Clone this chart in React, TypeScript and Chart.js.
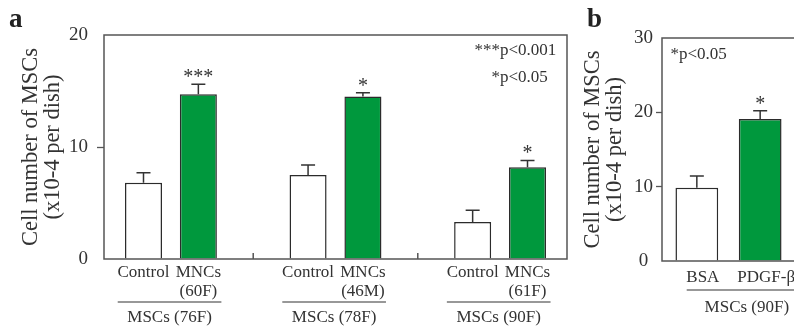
import React, { useEffect, useRef } from 'react';
import { Chart, registerables } from 'chart.js';
Chart.register(...registerables);

const SERIF = '"Liberation Serif", "Times New Roman", serif';
const INK = '#333333';
const AXIS = '#555555';
const GREEN = '#00983d';
const WHITE = '#ffffff';

// ---------- Panel a data ----------
const aPositions = [0, 1, 3, 4, 6, 7];
const aLabels = [['Control'], ['MNCs', '(60F)'], ['Control'], ['MNCs', '(46M)'], ['Control'], ['MNCs', '(61F)']];
const aMeans = [6.8, 14.7, 7.5, 14.5, 3.3, 8.2];
const aErrors = [0.9, 0.9, 0.9, 0.35, 1.05, 0.6];
const aStars = ['', '***', '', '*', '', '*'];
const aTreated = [false, true, false, true, false, true];
const aGroupNames = ['MSCs (76F)', 'MSCs (78F)', 'MSCs (90F)'];
const aGroupSpans = [[0, 1], [3, 4], [6, 7]];
const aDividers = [2, 5];
const aYTicks = [0, 10, 20];
const aNotes = [['***', 'p<0.001'], ['*', 'p<0.05']];

// ---------- Panel b data ----------
const bPositions = [0, 1];
const bLabels = [['BSA'], ['PDGF-β']];
const bMeans = [9.85, 19.1];
const bErrors = [1.6, 1.1];
const bStars = ['', '*'];
const bTreated = [false, true];
const bGroupNames = ['MSCs (90F)'];
const bGroupSpans = [[0, 1]];
const bDividers: number[] = [];
const bYTicks = [0, 10, 20, 30];
const bNotes = [['*', 'p<0.05']];

const yTitle = ['Cell number of MSCs', '(x10-4 per dish)'];

type Panel = any;

const panelA: Panel = {
  letter: 'a', letterX: 9, left: 0, width: 575,
  positions: aPositions, labels: aLabels, means: aMeans, errors: aErrors, stars: aStars,
  treated: aTreated, groupNames: aGroupNames, groupSpans: aGroupSpans, dividers: aDividers,
  yTicks: aYTicks, notes: aNotes,
  xMin: -0.72, xMax: 7.72,
  pad: { top: 35, right: 8, bottom: 68, left: 0 }, yWidth: 104,
  tickLength: 7, tickPadding: 9, crossAlign: 'near', titlePad: 20,
  labelOff: 14, labelLineH: 19, labelShift: 0,
  groupLineOff: 43, groupLabelOff: 59, groupExtL: 0.47, groupExtR: 0.42,
  noteAnchor: 'right', noteX: 67, noteY0: 16, noteDY: 27,
};

const panelB: Panel = {
  letter: 'b', letterX: 17, left: 570, width: 260,
  positions: bPositions, labels: bLabels, means: bMeans, errors: bErrors, stars: bStars,
  treated: bTreated, groupNames: bGroupNames, groupSpans: bGroupSpans, dividers: bDividers,
  yTicks: bYTicks, notes: bNotes,
  xMin: -0.55, xMax: 1.55,
  pad: { top: 38, right: 35, bottom: 66, left: 0 }, yWidth: 92,
  tickLength: 6, tickPadding: 3, crossAlign: 'center', titlePad: 12,
  labelOff: 16.5, labelLineH: 19, labelShift: 6,
  groupLineOff: 29, groupLabelOff: 46.5, groupExtL: 0.16, groupExtR: 0.74,
  noteAnchor: 'left', noteX: 17, noteY0: 17, noteDY: 27,
};

function decorPlugin(p: Panel) {
  return {
    id: 'decor',
    afterDatasetsDraw(chart: any) {
      const ctx = chart.ctx;
      const { left, right, top, bottom } = chart.chartArea;
      const xs = chart.scales.x;
      const ys = chart.scales.y;
      const meta = chart.getDatasetMeta(0);
      ctx.save();
      // error bars + stars
      ctx.strokeStyle = INK;
      ctx.fillStyle = INK;
      ctx.lineWidth = 1.5;
      meta.data.forEach((el: any, i: number) => {
        const x = el.x;
        const y0 = ys.getPixelForValue(p.means[i]);
        const y1 = ys.getPixelForValue(p.means[i] + p.errors[i]);
        ctx.beginPath();
        ctx.moveTo(x, y0);
        ctx.lineTo(x, y1);
        ctx.moveTo(x - 7, y1);
        ctx.lineTo(x + 7, y1);
        ctx.stroke();
        if (p.stars[i]) {
          ctx.font = `20px ${SERIF}`;
          ctx.textAlign = 'center';
          ctx.textBaseline = 'alphabetic';
          ctx.fillText(p.stars[i], x, y1 - 1);
        }
      });
      // frame
      ctx.strokeStyle = AXIS;
      ctx.lineWidth = 1.5;
      ctx.strokeRect(left, top, right - left, bottom - top);
      // small separators on x axis
      p.dividers.forEach((d: number) => {
        const x = xs.getPixelForValue(d);
        ctx.beginPath();
        ctx.moveTo(x, bottom);
        ctx.lineTo(x, bottom - 6);
        ctx.stroke();
      });
      // category labels
      ctx.fillStyle = INK;
      ctx.font = `17px ${SERIF}`;
      ctx.textAlign = 'center';
      ctx.textBaseline = 'middle';
      p.labels.forEach((lines: string[], i: number) => {
        const x = xs.getPixelForValue(p.positions[i]) + p.labelShift;
        lines.forEach((t, j) => ctx.fillText(t, x, bottom + p.labelOff + j * p.labelLineH));
      });
      // group lines + labels
      ctx.strokeStyle = INK;
      ctx.lineWidth = 1.2;
      p.groupNames.forEach((name: string, g: number) => {
        const [a, b] = p.groupSpans[g];
        const x0 = xs.getPixelForValue(a - p.groupExtL);
        const x1 = xs.getPixelForValue(b + p.groupExtR);
        const yl = bottom + p.groupLineOff;
        ctx.beginPath();
        ctx.moveTo(x0, yl);
        ctx.lineTo(x1, yl);
        ctx.stroke();
        ctx.fillText(name, (x0 + x1) / 2, bottom + p.groupLabelOff);
      });
      // significance notes
      ctx.font = `17px ${SERIF}`;
      p.notes.forEach(([s, t]: string[], k: number) => {
        const px = p.noteAnchor === 'right' ? right - p.noteX : left + p.noteX;
        const y = top + p.noteY0 + k * p.noteDY;
        ctx.textAlign = 'right';
        ctx.fillText(s, px, y);
        ctx.textAlign = 'left';
        ctx.fillText(t, px, y);
      });
      // panel letter
      ctx.fillStyle = '#222';
      ctx.font = `bold 27px ${SERIF}`;
      ctx.textAlign = 'left';
      ctx.textBaseline = 'alphabetic';
      ctx.fillText(p.letter, p.letterX, 27);
      ctx.restore();
    },
  };
}

function PanelChart({ p }: { p: Panel }) {
  const ref = useRef<HTMLCanvasElement>(null);
  useEffect(() => {
    if (!ref.current) return;
    const yMin = p.yTicks[0];
    const yMax = p.yTicks[p.yTicks.length - 1];
    const chart = new Chart(ref.current, {
      type: 'bar',
      data: {
        datasets: [
          {
            data: p.positions.map((x: number, i: number) => ({ x, y: p.means[i] })),
            backgroundColor: p.treated.map((t: boolean) => (t ? GREEN : WHITE)),
            borderColor: '#2b2b2b',
            borderWidth: 1.5,
            barPercentage: 0.675,
            categoryPercentage: 1,
          } as any,
        ],
      },
      options: {
        responsive: false,
        animation: false,
        events: [],
        layout: { padding: p.pad },
        plugins: { legend: { display: false }, tooltip: { enabled: false } },
        scales: {
          x: {
            type: 'linear',
            display: false,
            offset: false,
            grid: { offset: false },
            min: p.xMin,
            max: p.xMax,
            afterBuildTicks: (s: any) => {
              s.ticks = p.positions.map((v: number) => ({ value: v }));
            },
          },
          y: {
            type: 'linear',
            min: yMin,
            max: yMax,
            afterBuildTicks: (s: any) => {
              s.ticks = p.yTicks.map((v: number) => ({ value: v }));
            },
            afterFit: (s: any) => {
              s.width = p.yWidth;
            },
            border: { display: false },
            grid: {
              drawOnChartArea: false,
              drawTicks: true,
              tickLength: p.tickLength,
              tickWidth: 1.3,
              tickColor: (c: any) =>
                c.tick && c.tick.value > yMin && c.tick.value < yMax ? AXIS : 'rgba(0,0,0,0)',
            },
            ticks: {
              color: INK,
              padding: p.tickPadding,
              crossAlign: p.crossAlign,
              font: { family: SERIF, size: 19 },
            },
            title: {
              display: true,
              text: yTitle,
              color: INK,
              font: { family: SERIF, size: 22.5, lineHeight: 0.98 },
              padding: { top: p.titlePad, bottom: 0 },
            },
          },
        },
      } as any,
      plugins: [decorPlugin(p)],
    });
    return () => chart.destroy();
  }, []);
  return (
    <canvas
      ref={ref}
      width={p.width}
      height={327}
      style={{ position: 'absolute', left: p.left, top: 0, width: p.width, height: 327 }}
    />
  );
}

export default function App() {
  return (
    <div
      style={{
        position: 'fixed',
        left: 0,
        top: 0,
        width: 794,
        height: 327,
        overflow: 'hidden',
        background: '#fff',
      }}
    >
      <PanelChart p={panelA} />
      <PanelChart p={panelB} />
    </div>
  );
}
